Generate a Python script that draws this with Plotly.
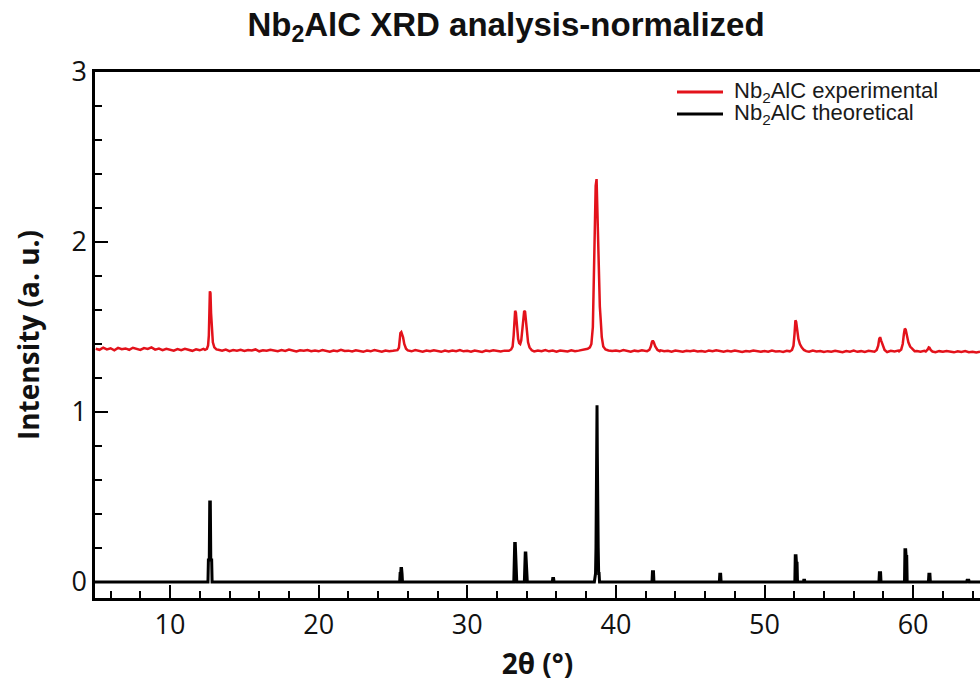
import numpy as np
import plotly.graph_objects as go

# ---------------------------------------------------------------------------
# Experimental pattern (normalised, offset): background sampled every 0.25°
# from 5° to 64.5°, plus finely sampled reflections that replace it locally.
# ---------------------------------------------------------------------------
exp_bg_start = 5.0
exp_bg_step = 0.25
exp_bg_intensity = [
    1.372, 1.366, 1.379, 1.368, 1.375, 1.363, 1.377, 1.369, 1.374, 1.366,
    1.378, 1.370, 1.365, 1.376, 1.371, 1.380, 1.367, 1.373, 1.364, 1.372,
    1.368, 1.361, 1.370, 1.364, 1.372, 1.366, 1.360, 1.369, 1.363, 1.371,
    1.368, 1.365, 1.362, 1.366, 1.360, 1.367, 1.358, 1.364, 1.361, 1.366,
    1.359, 1.365, 1.362, 1.368, 1.357, 1.363, 1.360, 1.366, 1.361, 1.358,
    1.364, 1.359, 1.367, 1.362, 1.356, 1.363, 1.360, 1.365, 1.358, 1.362,
    1.357, 1.364, 1.360, 1.355, 1.362, 1.358, 1.366, 1.359, 1.361, 1.356,
    1.363, 1.358, 1.354, 1.361, 1.357, 1.364, 1.359, 1.355, 1.362, 1.358,
    1.360, 1.356, 1.363, 1.358, 1.361, 1.357, 1.364, 1.359, 1.355, 1.362,
    1.357, 1.363, 1.359, 1.354, 1.361, 1.356, 1.362, 1.358, 1.364, 1.357,
    1.360, 1.355, 1.362, 1.358, 1.353, 1.361, 1.357, 1.363, 1.359, 1.356,
    1.361, 1.358, 1.362, 1.360, 1.357, 1.363, 1.358, 1.361, 1.356, 1.362,
    1.358, 1.364, 1.357, 1.361, 1.355, 1.362, 1.359, 1.356, 1.363, 1.358,
    1.361, 1.366, 1.363, 1.368, 1.372, 1.380, 1.375, 1.368, 1.364, 1.359,
    1.362, 1.357, 1.364, 1.359, 1.355, 1.361, 1.358, 1.363, 1.360, 1.364,
    1.362, 1.358, 1.363, 1.357, 1.360, 1.355, 1.361, 1.358, 1.354, 1.360,
    1.357, 1.362, 1.356, 1.359, 1.354, 1.361, 1.357, 1.363, 1.358, 1.355,
    1.360, 1.356, 1.361, 1.357, 1.353, 1.359, 1.356, 1.362, 1.357, 1.354,
    1.359, 1.355, 1.361, 1.356, 1.358, 1.353, 1.360, 1.357, 1.362, 1.358,
    1.363, 1.358, 1.355, 1.361, 1.356, 1.359, 1.353, 1.358, 1.355, 1.360,
    1.356, 1.352, 1.359, 1.355, 1.361, 1.354, 1.358, 1.353, 1.360, 1.356,
    1.359, 1.354, 1.357, 1.353, 1.360, 1.356, 1.361, 1.357, 1.362, 1.358,
    1.354, 1.359, 1.355, 1.360, 1.363, 1.357, 1.352, 1.358, 1.354, 1.359,
    1.355, 1.351, 1.357, 1.353, 1.358, 1.352, 1.355, 1.350, 1.354,
]

exp_peak_2theta = [
    [12.35, 12.48, 12.56, 12.61, 12.65, 12.68, 12.72, 12.76, 12.81, 12.88, 12.98, 13.12],
    [25.15, 25.30, 25.40, 25.46, 25.50, 25.56, 25.62, 25.68, 25.76, 25.88, 26.00],
    [32.80, 32.95, 33.05, 33.12, 33.17, 33.22, 33.27, 33.34, 33.42, 33.49, 33.56,
     33.63, 33.70, 33.77, 33.83, 33.89, 33.94, 34.01, 34.09, 34.19, 34.34],
    [37.90, 38.10, 38.25, 38.35, 38.45, 38.52, 38.58, 38.64, 38.70, 38.74, 38.78,
     38.82, 38.86, 38.92, 38.98, 39.05, 39.15, 39.30, 39.50],
    [42.10, 42.25, 42.35, 42.42, 42.48, 42.55, 42.65, 42.80, 42.95],
    [51.70, 51.85, 51.95, 52.02, 52.08, 52.13, 52.20, 52.28, 52.38, 52.50, 52.65, 52.80],
    [57.40, 57.55, 57.65, 57.72, 57.78, 57.85, 57.95, 58.08, 58.20],
    [59.05, 59.20, 59.30, 59.38, 59.44, 59.50, 59.58, 59.68, 59.80, 59.95, 60.10],
    [60.85, 60.98, 61.05, 61.10, 61.18, 61.30],
]
exp_peak_intensity = [
    [1.366, 1.372, 1.392, 1.45, 1.60, 1.71, 1.70, 1.58, 1.47, 1.41, 1.38, 1.368],
    [1.360, 1.364, 1.378, 1.42, 1.465, 1.47, 1.455, 1.44, 1.40, 1.372, 1.362],
    [1.360, 1.368, 1.385, 1.45, 1.56, 1.595, 1.585, 1.50, 1.43, 1.405, 1.40,
     1.42, 1.48, 1.56, 1.595, 1.59, 1.54, 1.46, 1.41, 1.38, 1.363],
    [1.365, 1.372, 1.38, 1.40, 1.50, 1.80, 2.10, 2.33, 2.37, 2.20, 2.05,
     1.85, 1.70, 1.62, 1.54, 1.44, 1.385, 1.368, 1.362],
    [1.358, 1.365, 1.385, 1.41, 1.42, 1.41, 1.385, 1.365, 1.358],
    [1.357, 1.365, 1.39, 1.46, 1.54, 1.53, 1.48, 1.43, 1.40, 1.38, 1.365, 1.358],
    [1.355, 1.365, 1.39, 1.43, 1.44, 1.42, 1.39, 1.365, 1.356],
    [1.357, 1.368, 1.40, 1.46, 1.49, 1.485, 1.45, 1.41, 1.385, 1.368, 1.358],
    [1.356, 1.368, 1.38, 1.378, 1.365, 1.356],
]

# ---------------------------------------------------------------------------
# Theoretical (calculated) pattern
# ---------------------------------------------------------------------------
theo_2theta = [
    4.95,
    12.55, 12.58, 12.64, 12.67, 12.71, 12.74, 12.80, 12.83,
    25.45, 25.48, 25.52, 25.54, 25.58, 25.61, 25.64,
    33.13, 33.16, 33.19, 33.23, 33.26, 33.30, 33.33,
    33.84, 33.87, 33.90, 33.94, 33.97, 34.01, 34.04,
    35.72, 35.75, 35.81, 35.84,
    38.55, 38.58, 38.63, 38.66, 38.68, 38.70, 38.73, 38.75, 38.77, 38.81, 38.84, 38.87, 38.90,
    42.43, 42.46, 42.53, 42.56,
    46.96, 46.99, 47.05, 47.08,
    52.04, 52.07, 52.12, 52.15, 52.19, 52.22, 52.62, 52.64, 52.70, 52.72,
    57.70, 57.73, 57.81, 57.84,
    59.42, 59.45, 59.50, 59.53, 59.57, 59.60,
    61.03, 61.06, 61.13, 61.16,
    63.60, 63.63, 63.75, 63.78,
    64.50,
]
theo_intensity = [
    0.0,
    0.0, 0.13, 0.13, 0.47, 0.47, 0.13, 0.13, 0.0,
    0.0, 0.05, 0.05, 0.08, 0.08, 0.05, 0.0,
    0.0, 0.20, 0.226, 0.226, 0.15, 0.15, 0.0,
    0.0, 0.16, 0.17, 0.17, 0.12, 0.12, 0.0,
    0.0, 0.02, 0.02, 0.0,
    0.0, 0.05, 0.05, 0.20, 0.98, 1.04, 1.04, 0.76, 0.20, 0.20, 0.05, 0.05, 0.0,
    0.0, 0.06, 0.06, 0.0,
    0.0, 0.045, 0.045, 0.0,
    0.0, 0.155, 0.155, 0.11, 0.11, 0.0, 0.0, 0.01, 0.01, 0.0,
    0.0, 0.055, 0.055, 0.0,
    0.0, 0.19, 0.19, 0.15, 0.15, 0.0,
    0.0, 0.045, 0.045, 0.0,
    0.0, 0.01, 0.01, 0.0,
    0.0,
]

series_names = ["Nb<sub>2</sub>AlC experimental", "Nb<sub>2</sub>AlC theoretical"]
series_colors = ["#e3121b", "#000000"]

x_ticks = [10, 20, 30, 40, 50, 60]
y_ticks = [0, 1, 2, 3]

# ---- assemble the experimental trace --------------------------------------
bg_x = exp_bg_start + exp_bg_step * np.arange(len(exp_bg_intensity))
bg_y = np.array(exp_bg_intensity)
keep = np.ones(len(bg_x), dtype=bool)
for px in exp_peak_2theta:
    keep &= ~((bg_x >= min(px)) & (bg_x <= max(px)))
exp_x = np.concatenate([bg_x[keep]] + [np.array(p) for p in exp_peak_2theta])
exp_y = np.concatenate([bg_y[keep]] + [np.array(p) for p in exp_peak_intensity])
order = np.argsort(exp_x)
exp_x, exp_y = exp_x[order], exp_y[order]

fig = go.Figure()
fig.add_trace(go.Scatter(
    x=exp_x, y=exp_y, mode="lines", name=series_names[0],
    line=dict(color=series_colors[0], width=2.5), showlegend=False,
))
fig.add_trace(go.Scatter(
    x=theo_2theta, y=theo_intensity, mode="lines", name=series_names[1],
    line=dict(color=series_colors[1], width=3), showlegend=False,
))

W, H = 980, 682
ml, mr, mt, mb = 95, 0, 72, 84
pw, ph = W - ml - mr, H - mt - mb

def px_to_paper(x, y):
    return (x - ml) / pw, (H - mb - y) / ph

# compact legend in the upper right corner
legend_rows = [92, 114]
shapes, annotations = [], []
for name, color, row in zip(series_names, series_colors, legend_rows):
    x0, yy = px_to_paper(677, row)
    x1, _ = px_to_paper(723, row)
    shapes.append(dict(type="line", xref="paper", yref="paper", x0=x0, x1=x1,
                       y0=yy, y1=yy, line=dict(color=color, width=3)))
    tx, _ = px_to_paper(732, row)
    annotations.append(dict(text=name, xref="paper", yref="paper", x=tx, y=yy,
                            xanchor="left", yanchor="middle", showarrow=False,
                            font=dict(family="Liberation Sans, Arial", size=22,
                                      color="#1a1a1a")))

tick_font = dict(family="Open Sans", size=27, color="#111111")
title_font = dict(family="Open Sans", size=28, color="#111111", weight="bold")

fig.update_layout(
    width=W, height=H,
    margin=dict(l=ml, r=mr, t=mt, b=mb, pad=0),
    paper_bgcolor="white", plot_bgcolor="white",
    title=dict(text="Nb<sub>2</sub>AlC XRD analysis-normalized",
               x=506 / W, xanchor="center", y=1 - 24 / H, yanchor="middle",
               xref="container", yref="container",
               font=dict(family="Liberation Sans, Arial", size=33,
                         color="#111111", weight="bold")),
    shapes=shapes, annotations=annotations,
    xaxis=dict(
        range=[4.95, 64.5], tickvals=x_ticks, ticks="inside", ticklen=13,
        tickwidth=2, tickcolor="black", showline=True, linewidth=2.5,
        linecolor="black", mirror=True, showgrid=False, zeroline=False,
        tickfont=tick_font, ticklabelstandoff=1,
        minor=dict(tick0=0, dtick=2, ticks="inside", ticklen=7, tickwidth=2,
                   tickcolor="black", showgrid=False),
        title=dict(text="2θ (°)", font=title_font, standoff=16),
    ),
    yaxis=dict(
        range=[-0.094, 3.0], tickvals=y_ticks, ticks="inside", ticklen=13,
        tickwidth=2, tickcolor="black", showline=True, linewidth=2.5,
        linecolor="black", mirror=False, showgrid=False, zeroline=False,
        tickfont=tick_font, ticklabelstandoff=0,
        minor=dict(tick0=0, dtick=0.2, ticks="inside", ticklen=7, tickwidth=2,
                   tickcolor="black", showgrid=False),
        title=dict(text="Intensity (a. u.)", font=title_font, standoff=24),
    ),
)

fig.write_html("out.html")
